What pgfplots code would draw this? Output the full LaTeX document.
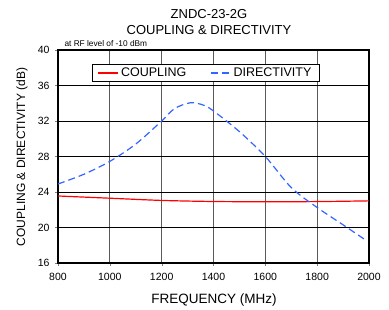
\documentclass[border=0pt]{standalone}
\usepackage{fontspec}
\setmainfont{Liberation Sans}
\usepackage{pgfplots}
\pgfplotsset{compat=1.18}
\definecolor{dirblue}{RGB}{51,102,255}
\definecolor{gridgray}{RGB}{90,90,90}
\begin{document}
\begin{tikzpicture}
\begin{axis}[
  at={(0,0)}, anchor=south west,
  scale only axis,
  width=311pt, height=213pt,
  xmin=800, xmax=2000, ymin=16, ymax=40,
  xtick={800,1000,...,2000},
  ytick={16,20,...,40},
  /pgf/number format/assume math mode=true,
  /pgf/number format/set thousands separator={},
  tick label style={font=\fontsize{10.5}{12}\selectfont},
  xticklabel style={yshift=-4pt},
  yticklabel style={xshift=-2pt},
  xtick pos=bottom, ytick pos=left,
  xtick align=outside, ytick align=outside,
  major tick length=3pt,
  axis line style={line width=1.2pt},
  grid=major,
  x grid style={gridgray, line width=0.9pt},
  y grid style={black, line width=0.7pt},
  legend columns=2,
  legend style={at={(0.108,0.934)}, anchor=north west, draw=black, line width=0.6pt, fill=white,
    font=\fontsize{12.5}{14}\selectfont, inner xsep=6pt, inner ysep=1.5pt,
    /tikz/every even column/.append style={column sep=22pt}},
  legend image code/.code={\draw[#1] (0pt,0pt) -- (20pt,0pt);},
]
\addplot[red, line width=1.2pt, smooth] coordinates {
(800,23.55) (1000,23.3) (1200,23.05) (1400,22.93) (1600,22.9) (1800,22.92) (2000,23.0)};
\addlegendentry{COUPLING}
\addplot[dirblue, line width=1.2pt, dash pattern=on 7pt off 4pt, smooth] coordinates {
(800,24.9) (900,26.0) (1000,27.45) (1100,29.4) (1200,32.0) (1250,33.4) (1310,34.05) (1360,33.8) (1400,33.13) (1500,30.8) (1600,28.0) (1700,24.5) (1800,22.25) (1900,20.3) (1981,18.7)};
\addlegendentry{DIRECTIVITY}
\end{axis}
\draw[draw=none] (-58pt,-44pt) rectangle (331pt,263pt);
\node[font=\fontsize{13}{15}\selectfont] at (151pt,249pt) {ZNDC-23-2G};
\node[font=\fontsize{13}{15}\selectfont] at (151pt,233pt) {COUPLING \& DIRECTIVITY};
\node[font=\fontsize{8.3}{10}\selectfont, anchor=west] at (3pt,219pt) {at RF level of -10 dBm};
\node[font=\fontsize{13.5}{15}\selectfont] at (156pt,-37pt) {FREQUENCY (MHz)};
\node[font=\fontsize{12}{14}\selectfont, rotate=90] at (-36pt,106pt) {COUPLING \& DIRECTIVITY (dB)};
\end{tikzpicture}
\end{document}
